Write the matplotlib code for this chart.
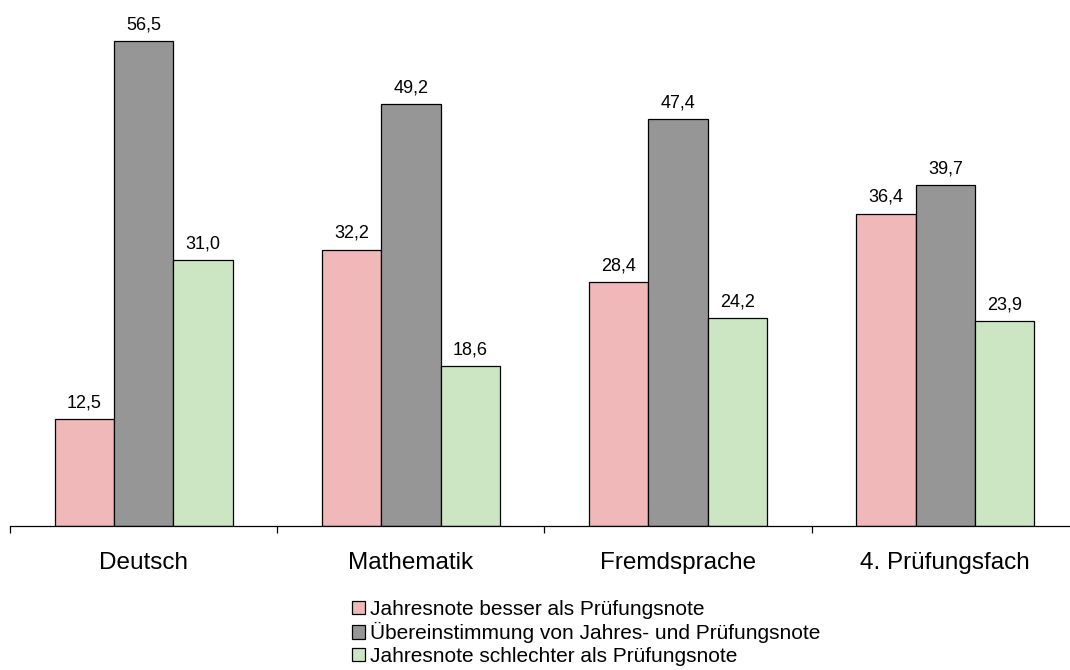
import matplotlib.pyplot as plt
import numpy as np

plt.rcParams['font.family'] = ['Liberation Sans', 'DejaVu Sans']

# Daten
faecher = ['Deutsch', 'Mathematik', 'Fremdsprache', '4. Prüfungsfach']
besser = [12.5, 32.2, 28.4, 36.4]
gleich = [56.5, 49.2, 47.4, 39.7]
schlechter = [31.0, 18.6, 24.2, 23.9]
namen = ['Jahresnote besser als Prüfungsnote',
         'Übereinstimmung von Jahres- und Prüfungsnote',
         'Jahresnote schlechter als Prüfungsnote']
farben = ['#F0B8B8', '#969696', '#CCE6C4']

fig = plt.figure(figsize=(10.7, 6.7), dpi=100)
ax = fig.add_axes([10 / 1070, 144 / 670, 1069 / 1070, 515 / 670])

x = np.arange(len(faecher)) + 0.5
w = 0.222
for k, werte in enumerate([besser, gleich, schlechter]):
    pos = x + (k - 1) * w
    bars = ax.bar(pos, werte, w, color=farben[k], edgecolor='black',
                  linewidth=0.9, label=namen[k])
    for b, v in zip(bars, werte):
        ax.annotate(('%.1f' % v).replace('.', ','),
                    (b.get_x() + b.get_width() / 2, v),
                    xytext=(0, 5.5), textcoords='offset points',
                    ha='center', va='bottom', fontsize=13)

ax.set_xlim(0, 4)
ax.set_ylim(0, 60)
for s in ['top', 'left', 'right']:
    ax.spines[s].set_visible(False)
ax.spines['bottom'].set_linewidth(0.9)
ax.set_yticks([])
ax.set_xticks(np.arange(0, 5))
ax.set_xticklabels([])
ax.tick_params(axis='x', which='major', length=5, width=0.9, direction='out')
ax.set_xticks(x, minor=True)
ax.set_xticklabels(faecher, minor=True, fontsize=17.5)
ax.tick_params(axis='x', which='minor', length=0, pad=18.5)

fig.legend(loc='upper left', bbox_to_anchor=(352 / 1070, 1 - 600 / 670),
           frameon=False, fontsize=15, handlelength=0.63, handleheight=0.63,
           handletextpad=0.25, labelspacing=0.16, borderpad=0, borderaxespad=0)

plt.savefig('out.png', dpi=100)
